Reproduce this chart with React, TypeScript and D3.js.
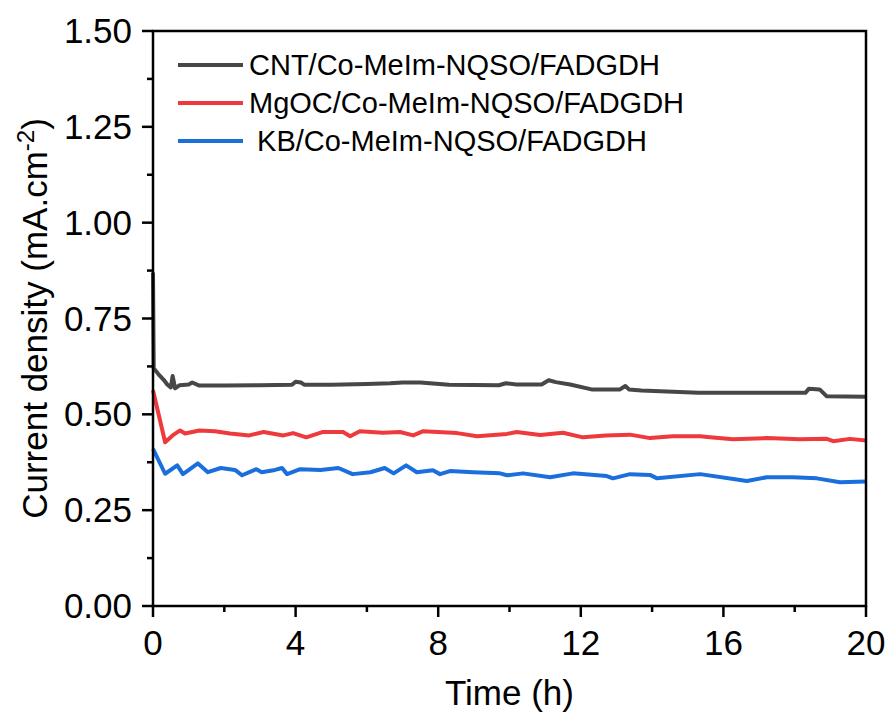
import React, { useEffect, useRef } from 'react';
import * as d3 from 'd3';

// Time (h) / current density (mA.cm-2)
const cntTime = [0, 0.02, 0.15, 0.3, 0.4, 0.5, 0.55, 0.62, 0.75, 1.0, 1.1, 1.3, 2.0, 3.0, 3.9, 4.0, 4.15, 4.25, 5.0, 6.0, 6.65, 7.0, 7.5, 8.3, 9.7, 9.9, 10.2, 10.9, 11.1, 11.3, 11.7, 12.3, 13.1, 13.25, 13.35, 13.7, 15.3, 16.5, 18.3, 18.4, 18.7, 18.9, 20];
const cntValue = [0.87, 0.62, 0.605, 0.59, 0.578, 0.57, 0.6, 0.568, 0.576, 0.578, 0.583, 0.575, 0.575, 0.576, 0.577, 0.585, 0.583, 0.577, 0.577, 0.579, 0.581, 0.583, 0.583, 0.577, 0.576, 0.581, 0.578, 0.578, 0.589, 0.584, 0.578, 0.565, 0.565, 0.574, 0.565, 0.562, 0.556, 0.556, 0.556, 0.567, 0.565, 0.547, 0.546];

const mgocTime = [0, 0.34, 0.55, 0.76, 0.9, 1.3, 1.74, 2.16, 2.7, 3.1, 3.66, 3.93, 4.3, 4.77, 5.33, 5.53, 5.8, 6.45, 6.93, 7.3, 7.58, 8.53, 9.09, 9.93, 10.2, 10.86, 11.5, 12.06, 12.7, 13.38, 13.94, 14.58, 15.35, 15.55, 16.27, 17.22, 18.15, 18.9, 19.08, 19.55, 20];
const mgocValue = [0.563, 0.427, 0.445, 0.458, 0.45, 0.458, 0.456, 0.45, 0.445, 0.454, 0.445, 0.451, 0.44, 0.454, 0.454, 0.443, 0.456, 0.452, 0.454, 0.445, 0.456, 0.451, 0.443, 0.449, 0.454, 0.446, 0.452, 0.44, 0.445, 0.447, 0.438, 0.443, 0.443, 0.441, 0.435, 0.438, 0.435, 0.436, 0.43, 0.436, 0.432];

const kbTime = [0, 0.34, 0.68, 0.84, 1.26, 1.54, 1.9, 2.3, 2.5, 2.9, 3.05, 3.42, 3.62, 3.76, 4.13, 4.7, 5.2, 5.6, 6.1, 6.5, 6.75, 7.1, 7.4, 7.85, 8.05, 8.33, 8.98, 9.73, 9.93, 10.38, 11.14, 11.78, 12.73, 12.9, 13.38, 13.94, 14.14, 15.35, 16.66, 17.22, 17.95, 18.62, 19.27, 20];
const kbValue = [0.41, 0.345, 0.367, 0.344, 0.372, 0.349, 0.36, 0.355, 0.341, 0.357, 0.349, 0.355, 0.36, 0.344, 0.357, 0.355, 0.36, 0.344, 0.349, 0.36, 0.346, 0.367, 0.349, 0.354, 0.344, 0.352, 0.349, 0.346, 0.341, 0.346, 0.336, 0.346, 0.339, 0.333, 0.344, 0.342, 0.333, 0.344, 0.326, 0.336, 0.336, 0.333, 0.323, 0.325];

const seriesNames = ['CNT/Co-MeIm-NQSO/FADGDH', 'MgOC/Co-MeIm-NQSO/FADGDH', ' KB/Co-MeIm-NQSO/FADGDH'];
const seriesColors = ['#474747', '#ee3a3c', '#1b6fdc'];
const xTicks = [0, 4, 8, 12, 16, 20];
const yTicks = [0, 0.25, 0.5, 0.75, 1.0, 1.25, 1.5];

const App = () => {
  const ref = useRef<SVGSVGElement>(null);

  useEffect(() => {
    const W = 893, H = 725;
    const m = { left: 153, right: 866, top: 31, bottom: 606 };
    const font = 'Arial, "Liberation Sans", sans-serif';

    const svg = d3.select(ref.current);
    svg.selectAll('*').remove();
    svg.attr('width', W).attr('height', H);

    const x = d3.scaleLinear().domain([0, 20]).range([m.left, m.right]);
    const y = d3.scaleLinear().domain([0, 1.5]).range([m.bottom, m.top]);

    const series = [
      cntTime.map((t, i) => [t, cntValue[i]]),
      mgocTime.map((t, i) => [t, mgocValue[i]]),
      kbTime.map((t, i) => [t, kbValue[i]]),
    ];

    const line = d3.line<number[]>().x(d => x(d[0])).y(d => y(d[1]));

    // Data lines
    series.forEach((s, i) => {
      svg.append('path')
        .attr('d', line(s))
        .attr('fill', 'none')
        .attr('stroke', seriesColors[i])
        .attr('stroke-width', 4)
        .attr('stroke-linejoin', 'round');
    });

    // Frame
    svg.append('rect')
      .attr('x', m.left).attr('y', m.top)
      .attr('width', m.right - m.left).attr('height', m.bottom - m.top)
      .attr('fill', 'none').attr('stroke', '#000').attr('stroke-width', 2.5);

    // X ticks (major + minor)
    d3.range(0, 20.01, 2).forEach(v => {
      const major = v % 4 === 0;
      svg.append('line')
        .attr('x1', x(v)).attr('x2', x(v))
        .attr('y1', m.bottom).attr('y2', m.bottom + (major ? 11 : 6))
        .attr('stroke', '#000').attr('stroke-width', 2.5);
    });
    xTicks.forEach(v => {
      svg.append('text')
        .attr('x', x(v)).attr('y', 655)
        .attr('text-anchor', 'middle')
        .style('font-family', font).style('font-size', '35px')
        .text(v);
    });

    // Y ticks (major + minor)
    d3.range(0, 1.501, 0.125).forEach((v, i) => {
      const major = i % 2 === 0;
      svg.append('line')
        .attr('x1', m.left).attr('x2', m.left - (major ? 11 : 6))
        .attr('y1', y(v)).attr('y2', y(v))
        .attr('stroke', '#000').attr('stroke-width', 2.5);
    });
    yTicks.forEach(v => {
      svg.append('text')
        .attr('x', 132).attr('y', y(v) + 12)
        .attr('text-anchor', 'end')
        .style('font-family', font).style('font-size', '35px')
        .text(v.toFixed(2));
    });

    // Axis titles
    svg.append('text')
      .attr('x', (m.left + m.right) / 2).attr('y', 705)
      .attr('text-anchor', 'middle')
      .style('font-family', font).style('font-size', '35px')
      .text('Time (h)');

    const yTitle = svg.append('text')
      .attr('transform', `translate(47,${(m.top + m.bottom) / 2}) rotate(-90)`)
      .attr('text-anchor', 'middle')
      .style('font-family', font).style('font-size', '35px');
    yTitle.append('tspan').text('Current density (mA.cm');
    yTitle.append('tspan').attr('dy', -13).style('font-size', '24px').text('-2');
    yTitle.append('tspan').attr('dy', 13).text(')');

    // Legend
    const legendY = [65, 103, 141];
    seriesNames.forEach((name, i) => {
      svg.append('line')
        .attr('x1', 178).attr('x2', 243)
        .attr('y1', legendY[i]).attr('y2', legendY[i])
        .attr('stroke', seriesColors[i]).attr('stroke-width', 4);
      svg.append('text')
        .attr('x', 249).attr('y', legendY[i] + 10)
        .style('font-family', font).style('font-size', '29px')
        .style('white-space', 'pre')
        .text(name);
    });
  }, []);

  return (
    <div style={{ position: 'absolute', left: 0, top: 0 }}>
      <svg ref={ref} style={{ display: 'block', background: '#fff' }} />
    </div>
  );
};

export default App;
